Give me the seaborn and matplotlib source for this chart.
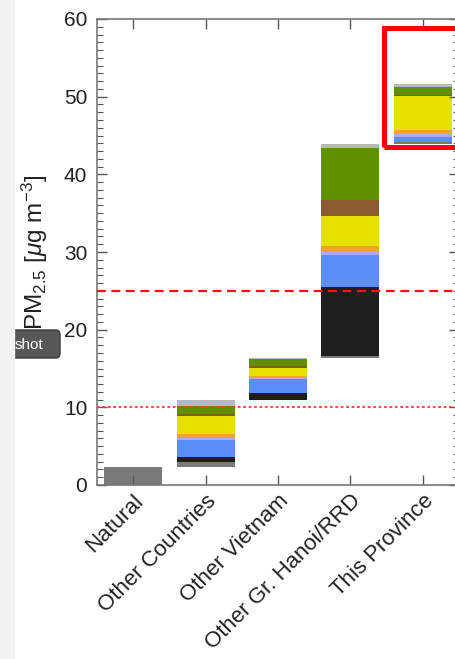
import numpy as np
import pandas as pd
import matplotlib
matplotlib.use("Agg")
import matplotlib.pyplot as plt
from matplotlib.patches import Rectangle, FancyBboxPatch
from matplotlib.ticker import MultipleLocator
import seaborn as sns

# --- Data ---
regions = ["Natural", "Other Countries", "Other Vietnam", "Other Gr. Hanoi/RRD", "This Province"]
sectors = ["Natural", "Power", "Industry", "Residential", "Agriculture",
           "Transport", "Waste", "Biomass burning", "Other"]
sector_colors = ["#7a7a7a", "#1e1e1e", "#5b8ef7", "#aaaaf5", "#eea424",
                 "#e4e000", "#8c5a30", "#5e9000", "#b8b8b8"]

natural_bar = [2.3, 0.0, 0.0, 0.0, 0.0, 0.0, 0.0, 0.0, 0.0]
other_countries = [0.6, 0.7, 2.2, 0.2, 0.6, 2.3, 0.2, 1.1, 0.7]
other_vietnam = [0.1, 0.8, 1.8, 0.3, 0.15, 1.0, 0.3, 0.9, 0.15]
other_hanoi = [0.2, 8.9, 4.05, 0.45, 0.75, 3.85, 2.05, 6.7, 0.6]
this_province = [0.2, 0.05, 0.6, 0.55, 0.3, 4.45, 0.1, 1.05, 0.35]

who_annual = 10   # dotted line
vn_standard = 25  # dashed line

# --- Build the stacked waterfall table ---
seg = np.array([natural_bar, other_countries, other_vietnam, other_hanoi, this_province])
flat = seg.ravel()
starts = np.concatenate([[0], np.cumsum(flat)[:-1]]).reshape(seg.shape)
df = pd.DataFrame(seg, index=regions, columns=sectors)
base = pd.DataFrame(starts, index=regions, columns=sectors)

plt.rcParams["font.family"] = ["Liberation Sans", "DejaVu Sans"]
plt.rcParams["mathtext.fontset"] = "custom"
plt.rcParams["mathtext.rm"] = "Liberation Sans"
plt.rcParams["mathtext.it"] = "Liberation Sans:italic"

W, H = 456, 659
fig = plt.figure(figsize=(W / 100, H / 100), dpi=100)
ax = fig.add_axes([97 / W, 174 / H, 362 / W, 466 / H])

for i, s in enumerate(sectors):
    sns.barplot(x=regions, y=df[s].values, bottom=base[s].values, ax=ax,
                color=sector_colors[i], saturation=1, errorbar=None,
                width=0.8, linewidth=0, order=regions)

ax.axhline(vn_standard, color="#ff1010", ls=(0, (4, 2.5)), lw=1.6, zorder=5)
ax.axhline(who_annual, color="#ff3838", ls=(0, (1.5, 1.5)), lw=1.3, zorder=5)

# red highlight box around this province
ax.add_patch(Rectangle((3.46, 43.5), 1.3, 15.4, fill=False, ec="#ff0000",
                       lw=3.6, clip_on=False, zorder=6))

ax.set_xlim(-0.5, 4.5)
ax.set_ylim(0, 60)
ax.yaxis.set_major_locator(MultipleLocator(10))
ax.yaxis.set_minor_locator(MultipleLocator(1))
ax.tick_params(axis="both", which="both", direction="in", colors="#555555",
               labelcolor="#222222", top=True, right=True)
ax.tick_params(axis="y", which="major", length=7, width=1, labelsize=15, pad=7)
ax.tick_params(axis="y", which="minor", length=4, width=0.8)
ax.tick_params(axis="x", which="major", length=7, width=1, labelsize=16, pad=4)
for sp in ax.spines.values():
    sp.set_color("#777777")
    sp.set_linewidth(1.2)

ax.set_xticks(range(len(regions)))
ax.set_xticklabels(regions, rotation=45, ha="right", rotation_mode="anchor")
ax.set_xlabel("")
ax.set_ylabel(r"PM$_{2.5}$ [$\mu$g m$^{-3}$]", fontsize=17.5, color="#222222", labelpad=10)

# screenshot-tool button overlay, clipped by the light strip on the left
fig.patches.append(FancyBboxPatch((-40 / W, 1 - 358 / H), 100 / W, 28 / H,
                                  boxstyle="round,pad=0,rounding_size=0.008",
                                  transform=fig.transFigure, fc="#575757",
                                  ec="#3c3c3c", lw=1, zorder=8))
fig.patches.append(Rectangle((0, 0), 14 / W, 1, transform=fig.transFigure,
                             color="#f3f3f3", zorder=9))
fig.text(15 / W, 1 - 345 / H, "shot", fontsize=11, color="white", va="center",
         zorder=10)

fig.savefig("out.png", dpi=100)
